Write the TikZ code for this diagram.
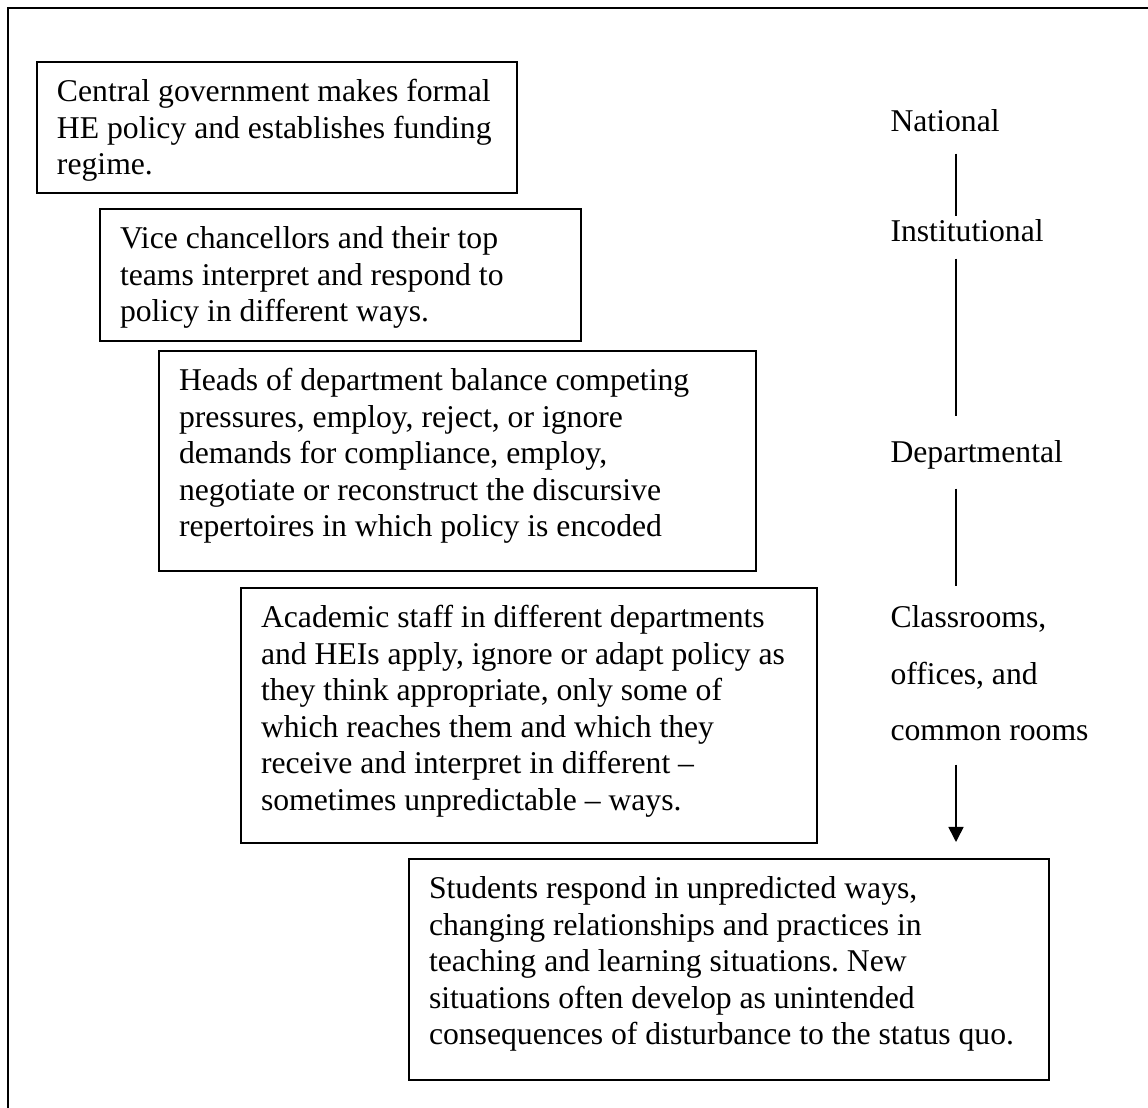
\documentclass[tikz,border=0pt]{standalone}
\usepackage{fontspec}
\setmainfont{Liberation Serif}
\usepackage{tikz}
\usetikzlibrary{arrows.meta,positioning}
\newcommand\docfont{\fontsize{12pt}{13.8pt}\selectfont\frenchspacing}

\begin{document}
\begin{tikzpicture}[
  x=0.3788pt,y=-0.3788pt,
  font=\docfont,
  execute at begin node={\spaceskip=3pt plus 1pt minus 1pt\relax\hyphenpenalty=10000\relax},
  box/.style={rectangle,draw=black,line width=0.75pt,anchor=north west,align=left,
              inner xsep=7.58pt,inner ysep=0pt,text height=15.15pt},
  lvl/.style={inner sep=0pt,text height=8.33pt,text depth=2.27pt},
  link/.style={line width=0.4pt},
  arr/.style={-{Triangle[length=5.7pt,width=5.7pt]},line width=0.6pt}
]
  \useasboundingbox (0,0) rectangle (1148,1108);
  \draw[line width=0.75pt] (8,1120) -- (8,8) -- (1160,8);

  \node[box,text width=166.7pt,text depth=34.47pt] (gov) at (36,61)
    {Central government makes formal\\HE policy and establishes funding\\regime.};
  \node[box,text width=167.1pt,text depth=34.85pt] (vc) at (99,208)
    {Vice chancellors and their top\\teams interpret and respond to\\policy in different ways.};
  \node[box,text width=211.0pt,text depth=68.18pt] (hod) at (158,350)
    {Heads of department balance competing\\pressures, employ, reject, or ignore\\demands for compliance, employ,\\negotiate or reconstruct the discursive\\repertoires in which policy is encoded};
  \node[box,text width=203.0pt,text depth=81.44pt] (staff) at (240,587)
    {Academic staff in different departments\\and HEIs apply, ignore or adapt policy as\\they think appropriate, only some of\\which reaches them and which they\\receive and interpret in different --\\sometimes unpredictable -- ways.};
  \node[box,text width=227.3pt,text depth=68.56pt] (stud) at (408,858)
    {Students respond in unpredicted ways,\\changing relationships and practices in\\teaching and learning situations. New\\situations often develop as unintended\\consequences of disturbance to the status quo.};

  \node[lvl,anchor=base west] (nat)  at (890,132) {National};
  \node[lvl,anchor=base west] (inst) at (890,242) {Institutional};
  \node[lvl,anchor=base west] (dept) at (890,463) {Departmental};
  \node[lvl,anchor=base west] (cls)  at (890,628) {Classrooms,};
  \node[lvl,below=10.23pt of cls.south west,anchor=north west] (ofc) {offices, and};
  \node[lvl,below=10.23pt of ofc.south west,anchor=north west] (rms) {common rooms};

  \coordinate (axis) at (956,0);
  \draw[link,shorten <=5.68pt,shorten >=1.14pt] (axis |- nat.south) -- (axis |- inst.north);
  \draw[link,shorten <=3.79pt,shorten >=9.09pt] (axis |- inst.south) -- (axis |- dept.north);
  \draw[link,shorten <=7.2pt,shorten >=7.2pt] (axis |- dept.south) -- (axis |- cls.north);
  \draw[arr,shorten <=6.82pt,shorten >=6.06pt] (axis |- rms.south) -- (axis |- stud.north);
\end{tikzpicture}
\end{document}
